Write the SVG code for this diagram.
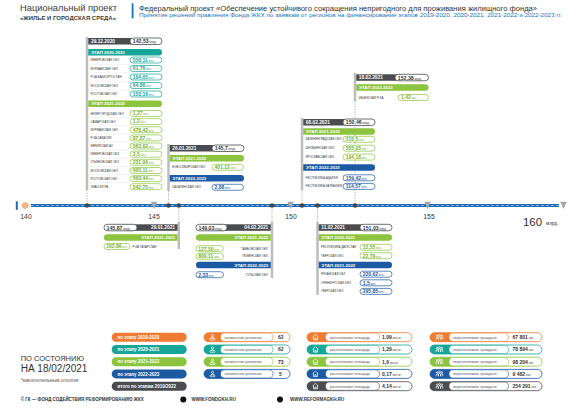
<svg xmlns="http://www.w3.org/2000/svg" width="579" height="410" viewBox="0 0 579 410">
<style>
text{font-family:"Liberation Sans",Arial,sans-serif}
.dt{font-size:4.8px;font-weight:bold;fill:#fff}
.st{font-size:4.4px;font-weight:bold;fill:#fff}
.lb{font-size:2.9px;fill:#333}
.pv{font-size:5.2px;font-weight:bold;fill:#333}
.u{font-size:2.7px;font-weight:normal}
.vt{font-size:5px;font-weight:bold}
.vT{fill:#16a596}.vG{fill:#76b030}.vB{fill:#1c5aa3}
.pT{fill:#fff;stroke:#16a596;stroke-width:.7}
.pG{fill:#fff;stroke:#8cc43f;stroke-width:.7}
.pB{fill:#fff;stroke:#1c5aa3;stroke-width:.7}
.pD{fill:#fff;stroke:#4a4c50;stroke-width:.8}
.dk{fill:#4a4c50}.gb{fill:#bdbdbd}
.cT{fill:#16a596}.cG{fill:#8cc43f}.cB{fill:#1c5aa3}.cO{fill:#f07c33}
.sep{stroke:#dedede;stroke-width:.4}
.cn{stroke:#8c8c8c;stroke-width:.6;stroke-dasharray:1.4 1.2;fill:none}
.lg{font-size:4.5px;font-weight:bold;fill:#fff}
.sl{font-size:3.8px;fill:#555}
.sv{font-size:5px;font-weight:bold;fill:#333}
.ic{fill:none;stroke:#fff;stroke-width:.7}
.ft{font-size:4.5px;font-weight:bold;fill:#333}
.tk{font-size:6.8px;fill:#333}
</style>
<rect width="579" height="410" fill="#fff"/>

<g id="header">
<text x="20" y="11" font-size="9.7" fill="#3c3c3c" textLength="97" lengthAdjust="spacingAndGlyphs">Национальный проект</text>
<text x="20" y="20" font-size="5.2" font-weight="bold" fill="#3c3c3c" textLength="96" lengthAdjust="spacingAndGlyphs">«ЖИЛЬЕ И ГОРОДСКАЯ СРЕДА»</text>
<rect x="131.7" y="3.3" width="1.8" height="15" fill="#1a73c0"/>
<text x="139" y="10.5" font-size="7" fill="#333" textLength="398" lengthAdjust="spacingAndGlyphs">Федеральный проект «Обеспечение устойчивого сокращения  непригодного для проживания жилищного фонда»</text>
<text x="139" y="17.3" font-size="5.6" fill="#1a73c0" textLength="423" lengthAdjust="spacingAndGlyphs">Принятие  решений правления Фонда ЖКХ по заявкам  от регионов на финансирование этапов 2019-2020, 2020-2021, 2021-2022 и 2022-2023 гг.</text>
</g>

<g id="connectors">
<line class="cn" x1="87" y1="190" x2="87" y2="205.5"/>
<line class="cn" x1="168.5" y1="191" x2="168.5" y2="205.5"/>
<line class="cn" x1="178.8" y1="205.5" x2="178.8" y2="222"/>
<line class="cn" x1="272" y1="205.5" x2="272" y2="222"/>
<line class="cn" x1="302" y1="190" x2="302" y2="205.5"/>
<line class="cn" x1="317.5" y1="205.5" x2="317.5" y2="222"/>
<line class="cn" x1="355" y1="101" x2="355" y2="205.5"/>
</g>

<g id="timeline">
<rect x="15.8" y="201.3" width="2" height="8.5" fill="#1e6bb8"/>
<circle cx="25.2" cy="205.5" r="3" fill="#f8b585" stroke="#ef7d32" stroke-width=".8" stroke-dasharray=".6 .6"/>
<line x1="31" y1="205.5" x2="559" y2="205.5" stroke="#1e6bb8" stroke-width="3.2"/>
<line x1="31" y1="205.5" x2="559" y2="205.5" stroke="#fff" stroke-width=".6" stroke-dasharray="3 2" opacity=".8"/>
<g fill="#a7a7a7">
<polygon points="150.7,201.8 157.3,201.8 154,209"/>
<polygon points="287.3,201.8 293.9,201.8 290.6,209"/>
<polygon points="424.3,201.8 430.9,201.8 427.6,209"/>
<polygon points="560.2,201.8 566.8,201.8 563.5,209"/>
</g>
<g fill="#444">
<circle cx="87" cy="205.5" r="2.2"/>
<circle cx="168.5" cy="205.5" r="2.2"/>
<circle cx="178.8" cy="205.5" r="2.2"/>
<circle cx="272" cy="205.5" r="2.2"/>
<circle cx="302" cy="205.5" r="2.2"/>
<circle cx="317.5" cy="205.5" r="2.2"/>
<circle cx="355" cy="205.5" r="2.2"/>
</g>
<text class="tk" x="26" y="218.5" text-anchor="middle">140</text>
<text class="tk" x="154" y="218.5" text-anchor="middle">145</text>
<text class="tk" x="291" y="218.5" text-anchor="middle">150</text>
<text class="tk" x="429" y="218.5" text-anchor="middle">155</text>
<text x="523" y="225.5" font-size="11.4" fill="#333">160</text>
<text x="546" y="225" font-size="4.6" fill="#333">млрд.</text>
</g>

<g id="box-29-12-2020">
<rect class="gb" x="85.75" y="37" width="2.5" height="153"/>
<rect class="dk" x="88.25" y="38" width="50" height="6.5"/>
<rect class="pD" x="130" y="38" width="32" height="6.5" rx="3.25"/>
<text class="dt" x="91" y="43.1">29.12.2020</text>
<text class="pv" x="132.8" y="43.4">142,53<tspan class="u"> млрд.</tspan></text>
<path class="cT" d="M88.25 49H158.75a3.25 3.25 0 0 1 0 6.5H88.25Z"/>
<text class="st" x="91" y="53.9">ЭТАП 2020-2021</text>
<g class="sep"><line x1="88.3" y1="64.25" x2="130" y2="64.25"/><line x1="88.3" y1="72.75" x2="130" y2="72.75"/><line x1="88.3" y1="81.25" x2="130" y2="81.25"/><line x1="88.3" y1="89.75" x2="130" y2="89.75"/></g>
<text class="lb" x="90.5" y="61">КЕМЕРОВСКАЯ ОБЛ.</text>
<rect class="pT" x="130" y="57" width="32" height="6" rx="3"/>
<text class="vt vT" x="132.8" y="61.85">558,11<tspan class="u"> млн.</tspan></text>
<text class="lb" x="90.5" y="69.5">МУРМАНСКАЯ ОБЛ.</text>
<rect class="pT" x="130" y="65.5" width="32" height="6" rx="3"/>
<text class="vt vT" x="132.8" y="70.35">61,76<tspan class="u"> млн.</tspan></text>
<text class="lb" x="90.5" y="78">Р-КА БАШКОРТОСТАН</text>
<rect class="pT" x="130" y="74" width="32" height="6" rx="3"/>
<text class="vt vT" x="132.8" y="78.85">184,65<tspan class="u"> млн.</tspan></text>
<text class="lb" x="90.5" y="86.5">МОСКОВСКАЯ ОБЛ.</text>
<rect class="pT" x="130" y="82.5" width="32" height="6" rx="3"/>
<text class="vt vT" x="132.8" y="87.35">64,86<tspan class="u"> млн.</tspan></text>
<text class="lb" x="90.5" y="95">РОСТОВСКАЯ ОБЛ.</text>
<rect class="pT" x="130" y="91" width="32" height="6" rx="3"/>
<text class="vt vT" x="132.8" y="95.85">153,16<tspan class="u"> млн.</tspan></text>
<path class="cG" d="M88.25 100.5H158.75a3.25 3.25 0 0 1 0 6.5H88.25Z"/>
<text class="st" x="91" y="105.4">ЭТАП 2021-2022</text>
<g class="sep"><line x1="88.3" y1="117.6" x2="130" y2="117.6"/><line x1="88.3" y1="125.7" x2="130" y2="125.7"/><line x1="88.3" y1="133.9" x2="130" y2="133.9"/><line x1="88.3" y1="142" x2="130" y2="142"/><line x1="88.3" y1="150.1" x2="130" y2="150.1"/><line x1="88.3" y1="158.3" x2="130" y2="158.3"/><line x1="88.3" y1="166.4" x2="130" y2="166.4"/><line x1="88.3" y1="174.6" x2="130" y2="174.6"/><line x1="88.3" y1="182.7" x2="130" y2="182.7"/></g>
<text class="lb" x="90.5" y="114.5">НИЖЕГОРОДСКАЯ ОБЛ.</text>
<rect class="pG" x="130" y="110.5" width="32" height="6" rx="3"/>
<text class="vt vG" x="132.8" y="115.35">1,27<tspan class="u"> млн.</tspan></text>
<text class="lb" x="90.5" y="122.6">САМАРСКАЯ ОБЛ.</text>
<rect class="pG" x="130" y="118.6" width="32" height="6" rx="3"/>
<text class="vt vG" x="132.8" y="123.45">1,2<tspan class="u"> млн.</tspan></text>
<text class="lb" x="90.5" y="130.8">МУРМАНСКАЯ ОБЛ.</text>
<rect class="pG" x="130" y="126.8" width="32" height="6" rx="3"/>
<text class="vt vG" x="132.8" y="131.65">478,42<tspan class="u"> млн.</tspan></text>
<text class="lb" x="90.5" y="138.9">Р-КА ХАКАСИЯ</text>
<rect class="pG" x="130" y="134.9" width="32" height="6" rx="3"/>
<text class="vt vG" x="132.8" y="139.75">87,87<tspan class="u"> млн.</tspan></text>
<text class="lb" x="90.5" y="147">ЕВРЕЙСКАЯ АО</text>
<rect class="pG" x="130" y="143" width="32" height="6" rx="3"/>
<text class="vt vG" x="132.8" y="147.85">563,62<tspan class="u"> млн.</tspan></text>
<text class="lb" x="90.5" y="155.2">КЕМЕРОВСКАЯ ОБЛ.</text>
<rect class="pG" x="130" y="151.2" width="32" height="6" rx="3"/>
<text class="vt vG" x="132.8" y="156.05">2,5<tspan class="u"> млн.</tspan></text>
<text class="lb" x="90.5" y="163.3">УЛЬЯНОВСКАЯ ОБЛ.</text>
<rect class="pG" x="130" y="159.3" width="32" height="6" rx="3"/>
<text class="vt vG" x="132.8" y="164.15">231,06<tspan class="u"> млн.</tspan></text>
<text class="lb" x="90.5" y="171.5">МОСКОВСКАЯ ОБЛ.</text>
<rect class="pG" x="130" y="167.5" width="32" height="6" rx="3"/>
<text class="vt vG" x="132.8" y="172.35">665,11<tspan class="u"> млн.</tspan></text>
<text class="lb" x="90.5" y="179.6">РОСТОВСКАЯ ОБЛ.</text>
<rect class="pG" x="130" y="175.6" width="32" height="6" rx="3"/>
<text class="vt vG" x="132.8" y="180.45">563,44<tspan class="u"> млн.</tspan></text>
<text class="lb" x="90.5" y="187.7">ХМАО-ЮГРА</text>
<rect class="pG" x="130" y="183.7" width="32" height="6" rx="3"/>
<text class="vt vG" x="132.8" y="188.55">542,75<tspan class="u"> млн.</tspan></text>
</g>

<g id="box-26-01-2021">
<rect class="gb" x="167.25" y="144" width="2.5" height="47"/>
<rect class="dk" x="169.75" y="145" width="48" height="6.5"/>
<rect class="pD" x="212" y="145" width="32" height="6.5" rx="3.25"/>
<text class="dt" x="172.3" y="150.1">26.01.2021</text>
<text class="pv" x="214.8" y="150.4">145,7<tspan class="u"> млрд.</tspan></text>
<path class="cG" d="M169.75 155H240.75a3.25 3.25 0 0 1 0 6.5H169.75Z"/>
<text class="st" x="172.3" y="159.9">ЭТАП 2021-2022</text>
<text class="lb" x="172" y="168.3">НОВОСИБИРСКАЯ ОБЛ.</text>
<rect class="pG" x="212" y="164.3" width="31.5" height="6" rx="3"/>
<text class="vt vG" x="214.6" y="169.15">401,12<tspan class="u"> млн.</tspan></text>
<path class="cB" d="M169.75 175H240.75a3.25 3.25 0 0 1 0 6.5H169.75Z"/>
<text class="st" x="172.3" y="179.9">ЭТАП 2022-2023</text>
<text class="lb" x="172" y="188.3">САХАЛИНСКАЯ ОБЛ.</text>
<rect class="pB" x="212" y="184.3" width="31.5" height="6" rx="3"/>
<text class="vt vB" x="214.6" y="189.15">2,88<tspan class="u"> млн.</tspan></text>
</g>

<g id="box-08-02-2021">
<rect class="gb" x="300.75" y="118" width="2.5" height="72"/>
<rect class="dk" x="303.25" y="119" width="47" height="6.5"/>
<rect class="pD" x="343" y="119" width="32" height="6.5" rx="3.25"/>
<text class="dt" x="305.8" y="124.1">08.02.2021</text>
<text class="pv" x="345.8" y="124.4">150,46<tspan class="u"> млрд.</tspan></text>
<path class="cG" d="M303.25 128.3H371.75a3.25 3.25 0 0 1 0 6.5H303.25Z"/>
<text class="st" x="305.8" y="133.2">ЭТАП 2021-2022</text>
<text class="lb" x="305.5" y="140.3">КАЛИНИНГРАДСКАЯ ОБЛ.</text>
<rect class="pG" x="343" y="136.3" width="32" height="6" rx="3"/>
<text class="vt vG" x="345.8" y="141.15">216,5<tspan class="u"> млн.</tspan></text>
<text class="lb" x="305.5" y="149.2">ЧЕЛЯБИНСКАЯ ОБЛ.</text>
<rect class="pG" x="343" y="145.2" width="32" height="6" rx="3"/>
<text class="vt vG" x="345.8" y="150.05">555,05<tspan class="u"> млн.</tspan></text>
<text class="lb" x="305.5" y="158.1">ЯРОСЛАВСКАЯ ОБЛ.</text>
<rect class="pG" x="343" y="154.1" width="32" height="6" rx="3"/>
<text class="vt vG" x="345.8" y="158.95">194,18<tspan class="u"> млн.</tspan></text>
<path class="cB" d="M303.25 164.3H371.75a3.25 3.25 0 0 1 0 6.5H303.25Z"/>
<text class="st" x="305.8" y="169.2">ЭТАП 2022-2023</text>
<text class="lb" x="305.5" y="178.8">РЕСПУБЛИКА АДЫГЕЯ</text>
<rect class="pB" x="343" y="174.8" width="32" height="6" rx="3"/>
<text class="vt vB" x="345.8" y="179.65">159,42<tspan class="u"> млн.</tspan></text>
<text class="lb" x="305.5" y="187.4">РЕСПУБЛИКА КАЛМЫКИЯ</text>
<rect class="pB" x="343" y="183.4" width="32" height="6" rx="3"/>
<text class="vt vB" x="345.8" y="188.25">114,57<tspan class="u"> млн.</tspan></text>
</g>

<g id="box-18-02-2021">
<rect class="gb" x="353.75" y="73" width="2.5" height="28"/>
<rect class="dk" x="356.25" y="74.3" width="45" height="6.5"/>
<rect class="pD" x="395" y="74.3" width="33.5" height="6.5" rx="3.25"/>
<text class="dt" x="358.8" y="79.4">18.02.2021</text>
<text class="pv" x="397.8" y="79.7">152,38<tspan class="u"> млрд.</tspan></text>
<path class="cG" d="M356.25 84.3H425.25a3.25 3.25 0 0 1 0 6.5H356.25Z"/>
<text class="st" x="358.8" y="89.2">ЭТАП 2022-2023</text>
<text class="lb" x="358.5" y="98.5">ЧЕЧЕНСКАЯ Р-КА</text>
<rect class="pG" x="398" y="94.5" width="30.5" height="6" rx="3"/>
<text class="vt vG" x="401" y="99.35">1,42<tspan class="u"> млн.</tspan></text>
</g>

<g id="box-29-01-2021">
<rect class="gb" x="177.55" y="222" width="2.5" height="27"/>
<rect class="dk" x="125" y="224.3" width="52.55" height="6.5"/>
<rect class="pD" x="104" y="224.3" width="33" height="6.5" rx="3.25"/>
<text class="dt" x="175" y="229.4" text-anchor="end">29.01.2021</text>
<text class="pv" x="106.6" y="229.7">145,87<tspan class="u"> млрд.</tspan></text>
<path class="cG" d="M177.55 234.3H107.25a3.25 3.25 0 0 0 0 6.5H177.55Z"/>
<text class="st" x="175" y="239.2" text-anchor="end">ЭТАП 2021-2022</text>
<rect class="pG" x="104" y="243.5" width="26" height="6" rx="3"/>
<text class="vt vG" x="106.3" y="248.35">162,86<tspan class="u"> млн.</tspan></text>
<text class="lb" x="132.5" y="247.5">Р-КА ТАТАРСТАН</text>
</g>

<g id="box-04-02-2021">
<rect class="gb" x="270.75" y="222" width="2.5" height="56"/>
<rect class="dk" x="215" y="224.3" width="55.75" height="6.5"/>
<rect class="pD" x="196" y="224.3" width="31" height="6.5" rx="3.25"/>
<text class="dt" x="268.3" y="229.4" text-anchor="end">04.02.2021</text>
<text class="pv" x="198.5" y="229.7">149,03<tspan class="u"> млрд.</tspan></text>
<path class="cG" d="M270.75 234.3H199.25a3.25 3.25 0 0 0 0 6.5H270.75Z"/>
<text class="st" x="268.3" y="239.2" text-anchor="end">ЭТАП 2021-2022</text>
<rect class="pG" x="196" y="245.7" width="27.5" height="6" rx="3"/>
<text class="vt vG" x="198.3" y="250.55">127,50<tspan class="u"> млн.</tspan></text>
<text class="lb" x="268.5" y="249.7" text-anchor="end">ТАМБОВСКАЯ ОБЛ.</text>
<rect class="pG" x="196" y="253.3" width="27.5" height="6" rx="3"/>
<text class="vt vG" x="198.3" y="258.15">809,11<tspan class="u"> млн.</tspan></text>
<text class="lb" x="268.5" y="257.3" text-anchor="end">ТЮМЕНСКАЯ ОБЛ.</text>
<path class="cB" d="M270.75 261.7H199.25a3.25 3.25 0 0 0 0 6.5H270.75Z"/>
<text class="st" x="268.3" y="266.6" text-anchor="end">ЭТАП 2022-2023</text>
<rect class="pB" x="196" y="271.7" width="27.5" height="6" rx="3"/>
<text class="vt vB" x="198.3" y="276.55">2,33<tspan class="u"> млн.</tspan></text>
<text class="lb" x="268.5" y="275.7" text-anchor="end">ТУЛЬСКАЯ ОБЛ.</text>
</g>

<g id="box-11-02-2021">
<rect class="gb" x="316.25" y="222" width="2.5" height="73"/>
<rect class="dk" x="318.75" y="224.3" width="45" height="6.5"/>
<rect class="pD" x="360" y="224.3" width="32" height="6.5" rx="3.25"/>
<text class="dt" x="321.3" y="229.4">11.02.2021</text>
<text class="pv" x="362.8" y="229.7">151,03<tspan class="u"> млрд.</tspan></text>
<path class="cG" d="M318.75 234.3H388.75a3.25 3.25 0 0 1 0 6.5H318.75Z"/>
<text class="st" x="321.3" y="239.2">ЭТАП 2020-2021</text>
<text class="lb" x="321" y="248.3">РЕСПУБЛИКА ДАГЕСТАН</text>
<rect class="pG" x="360" y="244.3" width="32" height="6" rx="3"/>
<text class="vt vG" x="362.8" y="249.15">12,55<tspan class="u"> млн.</tspan></text>
<text class="lb" x="321" y="256.7">ТВЕРСКАЯ ОБЛ.</text>
<rect class="pG" x="360" y="252.7" width="32" height="6" rx="3"/>
<text class="vt vG" x="362.8" y="257.55">22,79<tspan class="u"> млн.</tspan></text>
<path class="cB" d="M318.75 261.7H388.75a3.25 3.25 0 0 1 0 6.5H318.75Z"/>
<text class="st" x="321.3" y="266.6">ЭТАП 2021-2022</text>
<text class="lb" x="321" y="275.2">РЯЗАНСКАЯ ОБЛ.</text>
<rect class="pB" x="360" y="271.2" width="32" height="6" rx="3"/>
<text class="vt vB" x="362.8" y="276.05">220,62<tspan class="u"> млн.</tspan></text>
<text class="lb" x="321" y="283.8">ОРЕНБУРГСКАЯ ОБЛ.</text>
<rect class="pB" x="360" y="279.8" width="32" height="6" rx="3"/>
<text class="vt vB" x="362.8" y="284.65">1,5<tspan class="u"> млн.</tspan></text>
<text class="lb" x="321" y="292.4">ТВЕРСКАЯ ОБЛ.</text>
<rect class="pB" x="360" y="288.4" width="32" height="6" rx="3"/>
<text class="vt vB" x="362.8" y="293.25">295,85<tspan class="u"> млн.</tspan></text>
</g>

<g id="status">
<text x="20.7" y="360.8" font-size="7.5" fill="#333">ПО СОСТОЯНИЮ</text>
<text x="20.7" y="372.3" font-size="10" fill="#333">НА 18/02/2021</text>
<text x="20.7" y="382.3" font-size="4.8" font-style="italic" fill="#555">*накопительным итогом</text>
</g>

<g id="legend">
<rect class="cO" x="111.7" y="332.7" width="75" height="9" rx="4.5"/>
<text class="lg" x="117.5" y="338.9">по этапу 2019-2020</text>
<rect class="cT" x="111.7" y="345" width="75" height="9" rx="4.5"/>
<text class="lg" x="117.5" y="351.2">по этапу 2020-2021</text>
<rect class="cG" x="111.7" y="357.2" width="75" height="9" rx="4.5"/>
<text class="lg" x="117.5" y="363.4">по этапу 2021-2022</text>
<rect class="cB" x="111.7" y="369.4" width="75" height="9" rx="4.5"/>
<text class="lg" x="117.5" y="375.6">по этапу 2022-2023</text>
<rect class="dk" x="111.7" y="381.7" width="75" height="9" rx="4.5"/>
<text class="lg" x="117.5" y="387.9">итого по этапам 2019/2022</text>
</g>

<defs>
<g id="i-reg"><circle cx="0" cy="-1.6" r="1.1"/><path d="M-1.8 1.2Q0-1.2 1.8 1.2"/><ellipse cx="0" cy="2" rx="2.8" ry=".9"/></g>
<g id="i-house"><path d="M-2.9-.2L0-2.9 2.9-.2M-2-.9V2.6H2V-.9M-.6 2.6V.8H.6V2.6"/></g>
<g id="i-ppl"><circle cx="-2.3" cy="-1.5" r=".8"/><circle cx="0" cy="-1.9" r=".9"/><circle cx="2.3" cy="-1.5" r=".8"/><path d="M-3.3 2.4V.4Q-2.3-.6-1.3.4V2.4M-1.1 2.4V0Q0-1.1 1.1 0V2.4M1.3 2.4V.4Q2.3-.6 3.3.4V2.4"/></g>
</defs>

<g id="stat-regions">
<rect x="204" y="332.7" width="86" height="9" rx="4.5" fill="#fff" stroke="#f07c33" stroke-width=".8"/><rect class="cO" x="204" y="332.7" width="24" height="9" rx="4.5"/><rect x="220.5" y="333.1" width="52.5" height="8.2" rx="4.1" fill="#fff" stroke="#f07c33" stroke-width=".6"/><use href="#i-reg" class="ic" x="212.5" y="337.2"/><text class="sl" x="224.5" y="338.6">количество регионов</text><text class="sv" x="278" y="339.1">62</text>
<rect x="204" y="345" width="86" height="9" rx="4.5" fill="#fff" stroke="#16a596" stroke-width=".8"/><rect class="cT" x="204" y="345" width="24" height="9" rx="4.5"/><rect x="220.5" y="345.4" width="52.5" height="8.2" rx="4.1" fill="#fff" stroke="#16a596" stroke-width=".6"/><use href="#i-reg" class="ic" x="212.5" y="349.5"/><text class="sl" x="224.5" y="350.9">количество регионов</text><text class="sv" x="278" y="351.4">62</text>
<rect x="204" y="357.2" width="86" height="9" rx="4.5" fill="#fff" stroke="#8cc43f" stroke-width=".8"/><rect class="cG" x="204" y="357.2" width="24" height="9" rx="4.5"/><rect x="220.5" y="357.6" width="52.5" height="8.2" rx="4.1" fill="#fff" stroke="#8cc43f" stroke-width=".6"/><use href="#i-reg" class="ic" x="212.5" y="361.7"/><text class="sl" x="224.5" y="363.1">количество регионов</text><text class="sv" x="278" y="363.6">73</text>
<rect x="204" y="369.4" width="86" height="9" rx="4.5" fill="#fff" stroke="#1c5aa3" stroke-width=".8"/><rect class="cB" x="204" y="369.4" width="24" height="9" rx="4.5"/><rect x="220.5" y="369.8" width="52.5" height="8.2" rx="4.1" fill="#fff" stroke="#1c5aa3" stroke-width=".6"/><use href="#i-reg" class="ic" x="212.5" y="373.9"/><text class="sl" x="224.5" y="375.3">количество регионов</text><text class="sv" x="279" y="375.8">5</text>
</g>

<g id="stat-area">
<rect x="307" y="332.7" width="105" height="9" rx="4.5" fill="#fff" stroke="#f07c33" stroke-width=".8"/><rect class="cO" x="307" y="332.7" width="24" height="9" rx="4.5"/><rect x="325.5" y="333.1" width="54" height="8.2" rx="4.1" fill="#fff" stroke="#f07c33" stroke-width=".6"/><use href="#i-house" class="ic" x="315.5" y="337.2"/><text class="sl" x="330" y="338.6">расселяемая площадь</text><text class="sv" x="382" y="339.1">1,09<tspan class="u" dx="1">млн м²</tspan></text>
<rect x="307" y="345" width="105" height="9" rx="4.5" fill="#fff" stroke="#16a596" stroke-width=".8"/><rect class="cT" x="307" y="345" width="24" height="9" rx="4.5"/><rect x="325.5" y="345.4" width="54" height="8.2" rx="4.1" fill="#fff" stroke="#16a596" stroke-width=".6"/><use href="#i-house" class="ic" x="315.5" y="349.5"/><text class="sl" x="330" y="350.9">расселяемая площадь</text><text class="sv" x="382" y="351.4">1,29<tspan class="u" dx="1">млн м²</tspan></text>
<rect x="307" y="357.2" width="105" height="9" rx="4.5" fill="#fff" stroke="#8cc43f" stroke-width=".8"/><rect class="cG" x="307" y="357.2" width="24" height="9" rx="4.5"/><rect x="325.5" y="357.6" width="54" height="8.2" rx="4.1" fill="#fff" stroke="#8cc43f" stroke-width=".6"/><use href="#i-house" class="ic" x="315.5" y="361.7"/><text class="sl" x="330" y="363.1">расселяемая площадь</text><text class="sv" x="382" y="363.6">1,6<tspan class="u" dx="1">млн м²</tspan></text>
<rect x="307" y="369.4" width="105" height="9" rx="4.5" fill="#fff" stroke="#1c5aa3" stroke-width=".8"/><rect class="cB" x="307" y="369.4" width="24" height="9" rx="4.5"/><rect x="325.5" y="369.8" width="54" height="8.2" rx="4.1" fill="#fff" stroke="#1c5aa3" stroke-width=".6"/><use href="#i-house" class="ic" x="315.5" y="373.9"/><text class="sl" x="330" y="375.3">расселяемая площадь</text><text class="sv" x="382" y="375.8">0,17<tspan class="u" dx="1">млн м²</tspan></text>
<rect x="307" y="381.7" width="105" height="9" rx="4.5" fill="#fff" stroke="#4a4c50" stroke-width=".8"/><rect class="dk" x="307" y="381.7" width="24" height="9" rx="4.5"/><rect x="325.5" y="382.1" width="54" height="8.2" rx="4.1" fill="#fff" stroke="#4a4c50" stroke-width=".6"/><use href="#i-house" class="ic" x="315.5" y="386.2"/><text class="sl" x="330" y="387.6">расселяемая площадь</text><text class="sv" x="382" y="388.1">4,14<tspan class="u" dx="1">млн м²</tspan></text>
</g>

<g id="stat-people">
<rect x="430" y="332.7" width="112" height="9" rx="4.5" fill="#fff" stroke="#f07c33" stroke-width=".8"/><rect class="cO" x="430" y="332.7" width="24" height="9" rx="4.5"/><rect x="449" y="333.1" width="59.5" height="8.2" rx="4.1" fill="#fff" stroke="#f07c33" stroke-width=".6"/><use href="#i-ppl" class="ic" x="439.5" y="337.2"/><text class="sl" x="453" y="338.6">переселяемые граждане</text><text class="sv" x="512.5" y="339.1">67 801<tspan class="u" dx="1">чел.</tspan></text>
<rect x="430" y="345" width="112" height="9" rx="4.5" fill="#fff" stroke="#16a596" stroke-width=".8"/><rect class="cT" x="430" y="345" width="24" height="9" rx="4.5"/><rect x="449" y="345.4" width="59.5" height="8.2" rx="4.1" fill="#fff" stroke="#16a596" stroke-width=".6"/><use href="#i-ppl" class="ic" x="439.5" y="349.5"/><text class="sl" x="453" y="350.9">переселяемые граждане</text><text class="sv" x="512.5" y="351.4">78 894<tspan class="u" dx="1">чел.</tspan></text>
<rect x="430" y="357.2" width="112" height="9" rx="4.5" fill="#fff" stroke="#8cc43f" stroke-width=".8"/><rect class="cG" x="430" y="357.2" width="24" height="9" rx="4.5"/><rect x="449" y="357.6" width="59.5" height="8.2" rx="4.1" fill="#fff" stroke="#8cc43f" stroke-width=".6"/><use href="#i-ppl" class="ic" x="439.5" y="361.7"/><text class="sl" x="453" y="363.1">переселяемые граждане</text><text class="sv" x="512.5" y="363.6">98 204<tspan class="u" dx="1">чел.</tspan></text>
<rect x="430" y="369.4" width="112" height="9" rx="4.5" fill="#fff" stroke="#1c5aa3" stroke-width=".8"/><rect class="cB" x="430" y="369.4" width="24" height="9" rx="4.5"/><rect x="449" y="369.8" width="59.5" height="8.2" rx="4.1" fill="#fff" stroke="#1c5aa3" stroke-width=".6"/><use href="#i-ppl" class="ic" x="439.5" y="373.9"/><text class="sl" x="453" y="375.3">переселяемые граждане</text><text class="sv" x="512.5" y="375.8">9 482<tspan class="u" dx="1">чел.</tspan></text>
<rect x="430" y="381.7" width="112" height="9" rx="4.5" fill="#fff" stroke="#4a4c50" stroke-width=".8"/><rect class="dk" x="430" y="381.7" width="24" height="9" rx="4.5"/><rect x="449" y="382.1" width="59.5" height="8.2" rx="4.1" fill="#fff" stroke="#4a4c50" stroke-width=".6"/><use href="#i-ppl" class="ic" x="439.5" y="386.2"/><text class="sl" x="453" y="387.6">переселяемые граждане</text><text class="sv" x="512.5" y="388.1">254 291<tspan class="u" dx="1">чел.</tspan></text>
</g>

<g id="footer">
<text class="ft" x="20.7" y="401.2">© ГК — ФОНД СОДЕЙСТВИЯ РЕФОРМИРОВАНИЮ ЖКХ</text>
<circle cx="183.3" cy="399.6" r="3" fill="#111"/>
<text class="ft" x="191.5" y="401.3" font-size="4.8">WWW.FONDGKH.RU</text>
<circle cx="280" cy="399.6" r="3" fill="#111"/>
<text class="ft" x="290" y="401.3" font-size="4.8">WWW.REFORMAGKH.RU</text>
</g>
</svg>
